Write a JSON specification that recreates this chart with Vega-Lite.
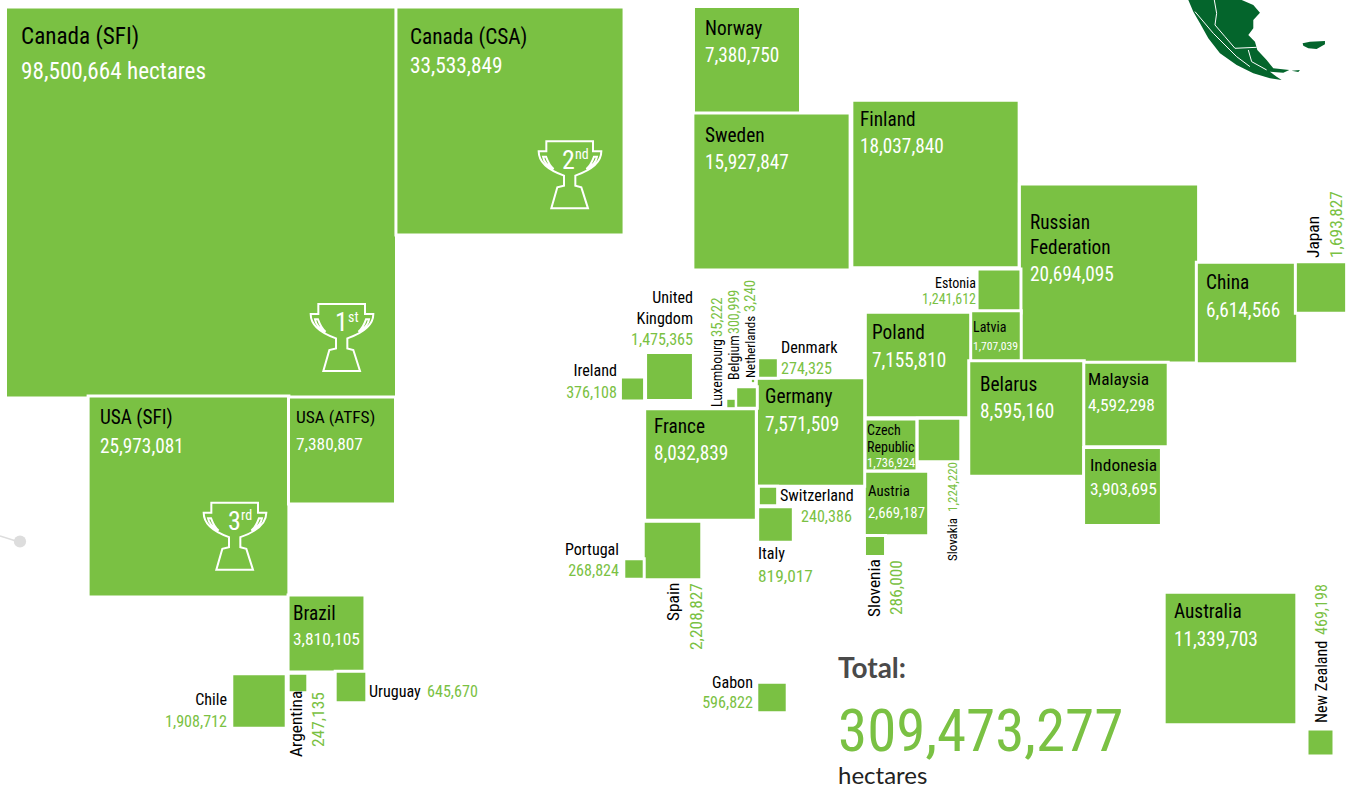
{
"$schema":"https://vega.github.io/schema/vega-lite/v6.json",
"width":1356,"height":789,"autosize":{"type":"none"},"padding":0,
"background":"white",
"config":{"view":{"stroke":null}},
"datasets":{
"squares":[
{"name":"Canada (SFI)","hectares":98500664,"mx":201,"my":202.5},
{"name":"Canada (CSA)","hectares":33533849,"mx":510,"my":121},
{"name":"Norway","hectares":7380750,"mx":747,"my":60},
{"name":"Sweden","hectares":15927847,"mx":771.5,"my":191.5},
{"name":"Finland","hectares":18037840,"mx":935.5,"my":184},
{"name":"Russian Federation","hectares":20694095,"mx":1109,"my":273.5},
{"name":"China","hectares":6614566,"mx":1247,"my":313},
{"name":"Japan","hectares":1693827,"mx":1321,"my":287.5},
{"name":"Estonia","hectares":1241612,"mx":999,"my":291},
{"name":"Latvia","hectares":1707039,"mx":995.5,"my":336.5},
{"name":"Poland","hectares":7155810,"mx":918,"my":365},
{"name":"Belarus","hectares":8595160,"mx":1026.5,"my":418.5},
{"name":"Malaysia","hectares":4592298,"mx":1126,"my":404.5},
{"name":"Indonesia","hectares":3903695,"mx":1122.5,"my":486.5},
{"name":"Czech Republic","hectares":1736924,"mx":891,"my":445},
{"name":"Slovakia","hectares":1224220,"mx":939,"my":440},
{"name":"Austria","hectares":2669187,"mx":896.5,"my":503.5},
{"name":"Slovenia","hectares":286000,"mx":875,"my":546},
{"name":"Germany","hectares":7571509,"mx":810.5,"my":432},
{"name":"France","hectares":8032839,"mx":700.5,"my":464.5},
{"name":"Denmark","hectares":274325,"mx":768,"my":368},
{"name":"Netherlands","hectares":3240,"mx":753,"my":381},
{"name":"Belgium","hectares":300999,"mx":746.5,"my":397.5},
{"name":"Luxembourg","hectares":35222,"mx":731,"my":403.5},
{"name":"United Kingdom","hectares":1475365,"mx":669.5,"my":376.5},
{"name":"Ireland","hectares":376108,"mx":632.5,"my":389},
{"name":"Switzerland","hectares":240386,"mx":768,"my":496},
{"name":"Italy","hectares":819017,"mx":775.5,"my":524.5},
{"name":"Spain","hectares":2208827,"mx":672.5,"my":550.5},
{"name":"Portugal","hectares":268824,"mx":634,"my":569},
{"name":"USA (SFI)","hectares":25973081,"mx":188.5,"my":496.5},
{"name":"USA (ATFS)","hectares":7380807,"mx":342,"my":450.5},
{"name":"Brazil","hectares":3810105,"mx":326.5,"my":633.5},
{"name":"Chile","hectares":1908712,"mx":259,"my":701},
{"name":"Argentina","hectares":247135,"mx":298,"my":683},
{"name":"Uruguay","hectares":645670,"mx":351,"my":687},
{"name":"Gabon","hectares":596822,"mx":772,"my":697.5},
{"name":"Australia","hectares":11339703,"mx":1230.5,"my":658.5},
{"name":"New Zealand","hectares":469198,"mx":1320.5,"my":742.5}
],
"labelsLeft":[
{"t":"Canada (SFI)","lx":21,"ly":44,"tone":"k","tier":"a"},
{"t":"98,500,664 hectares","lx":21,"ly":79,"tone":"w","tier":"a"},
{"t":"Canada (CSA)","lx":410,"ly":44,"tone":"k","tier":"b"},
{"t":"33,533,849","lx":410,"ly":73,"tone":"w","tier":"b"},
{"t":"Norway","lx":705,"ly":35,"tone":"k","tier":"c"},
{"t":"7,380,750","lx":705,"ly":62,"tone":"w","tier":"c"},
{"t":"Sweden","lx":705,"ly":142,"tone":"k","tier":"c"},
{"t":"15,927,847","lx":705,"ly":169,"tone":"w","tier":"c"},
{"t":"Finland","lx":860,"ly":126,"tone":"k","tier":"c"},
{"t":"18,037,840","lx":860,"ly":153,"tone":"w","tier":"c"},
{"t":"Russian","lx":1030,"ly":229,"tone":"k","tier":"c"},
{"t":"Federation","lx":1030,"ly":254,"tone":"k","tier":"c"},
{"t":"20,694,095","lx":1030,"ly":281,"tone":"w","tier":"c"},
{"t":"China","lx":1206,"ly":289,"tone":"k","tier":"c"},
{"t":"6,614,566","lx":1206,"ly":317,"tone":"w","tier":"c"},
{"t":"Poland","lx":872,"ly":339,"tone":"k","tier":"c"},
{"t":"7,155,810","lx":872,"ly":367,"tone":"w","tier":"c"},
{"t":"Belarus","lx":980,"ly":391,"tone":"k","tier":"c"},
{"t":"8,595,160","lx":980,"ly":418,"tone":"w","tier":"c"},
{"t":"Malaysia","lx":1088,"ly":385,"tone":"k","tier":"d"},
{"t":"4,592,298","lx":1088,"ly":411,"tone":"w","tier":"d"},
{"t":"Indonesia","lx":1090,"ly":471,"tone":"k","tier":"d"},
{"t":"3,903,695","lx":1090,"ly":495,"tone":"w","tier":"d"},
{"t":"Latvia","lx":973,"ly":332,"tone":"k","tier":"f"},
{"t":"1,707,039","lx":973,"ly":350,"tone":"w","tier":"h"},
{"t":"Czech","lx":867,"ly":435,"tone":"k","tier":"f"},
{"t":"Republic","lx":867,"ly":452,"tone":"k","tier":"f"},
{"t":"1,736,924","lx":867,"ly":467,"tone":"w","tier":"g"},
{"t":"Austria","lx":868,"ly":496,"tone":"k","tier":"i"},
{"t":"2,669,187","lx":868,"ly":518,"tone":"w","tier":"i"},
{"t":"Germany","lx":765,"ly":403,"tone":"k","tier":"c"},
{"t":"7,571,509","lx":765,"ly":431,"tone":"w","tier":"c"},
{"t":"France","lx":654,"ly":433,"tone":"k","tier":"c"},
{"t":"8,032,839","lx":654,"ly":460,"tone":"w","tier":"c"},
{"t":"USA (SFI)","lx":100,"ly":424,"tone":"k","tier":"c"},
{"t":"25,973,081","lx":100,"ly":453,"tone":"w","tier":"c"},
{"t":"USA (ATFS)","lx":296,"ly":423,"tone":"k","tier":"d"},
{"t":"7,380,807","lx":296,"ly":450,"tone":"w","tier":"d"},
{"t":"Brazil","lx":293,"ly":620,"tone":"k","tier":"c"},
{"t":"3,810,105","lx":293,"ly":645,"tone":"w","tier":"d"},
{"t":"Australia","lx":1174,"ly":618,"tone":"k","tier":"c"},
{"t":"11,339,703","lx":1174,"ly":646,"tone":"w","tier":"c"},
{"t":"Denmark","lx":781,"ly":353,"tone":"k","tier":"e"},
{"t":"274,325","lx":781,"ly":374,"tone":"g","tier":"e"},
{"t":"Switzerland","lx":780,"ly":501,"tone":"k","tier":"e"},
{"t":"240,386","lx":801,"ly":522,"tone":"g","tier":"e"},
{"t":"Italy","lx":758,"ly":559,"tone":"k","tier":"e"},
{"t":"819,017","lx":758,"ly":582,"tone":"g","tier":"d"},
{"t":"Uruguay","lx":369,"ly":697,"tone":"k","tier":"e"},
{"t":"645,670","lx":427,"ly":697,"tone":"g","tier":"e"},
{"t":"1","lx":335,"ly":331,"tone":"w","tier":"r"},
{"t":"st","lx":348,"ly":322,"tone":"w","tier":"f"},
{"t":"2","lx":562,"ly":169,"tone":"w","tier":"r"},
{"t":"nd","lx":575,"ly":159,"tone":"w","tier":"f"},
{"t":"3","lx":228,"ly":530,"tone":"w","tier":"r"},
{"t":"rd","lx":241,"ly":520,"tone":"w","tier":"f"}
],
"labelsRight":[
{"t":"Estonia","lx":976,"ly":288,"tone":"k","tier":"f"},
{"t":"1,241,612","lx":976,"ly":304,"tone":"g","tier":"f"},
{"t":"United","lx":693,"ly":303,"tone":"k","tier":"e"},
{"t":"Kingdom","lx":693,"ly":324,"tone":"k","tier":"e"},
{"t":"1,475,365","lx":693,"ly":345,"tone":"g","tier":"e"},
{"t":"Ireland","lx":617,"ly":376,"tone":"k","tier":"e"},
{"t":"376,108","lx":617,"ly":398,"tone":"g","tier":"e"},
{"t":"Portugal","lx":619,"ly":555,"tone":"k","tier":"e"},
{"t":"268,824","lx":619,"ly":576,"tone":"g","tier":"e"},
{"t":"Chile","lx":227,"ly":705,"tone":"k","tier":"e"},
{"t":"1,908,712","lx":227,"ly":727,"tone":"g","tier":"e"},
{"t":"Gabon","lx":753,"ly":688,"tone":"k","tier":"e"},
{"t":"596,822","lx":753,"ly":708,"tone":"g","tier":"e"}
],
"labelsUp":[
{"t":"Luxembourg","lx":722,"ly":407,"tone":"k","tier":"f"},
{"t":"35,222","lx":722,"ly":337,"tone":"g","tier":"i"},
{"t":"Belgium","lx":739,"ly":380,"tone":"k","tier":"f"},
{"t":"300,999","lx":739,"ly":334,"tone":"g","tier":"f"},
{"t":"Netherlands","lx":755,"ly":378,"tone":"k","tier":"j"},
{"t":"3,240","lx":755,"ly":312,"tone":"g","tier":"i"},
{"t":"Japan","lx":1319,"ly":258,"tone":"k","tier":"d"},
{"t":"1,693,827","lx":1342,"ly":258,"tone":"g","tier":"d"},
{"t":"Slovakia","lx":957,"ly":561,"tone":"k","tier":"j"},
{"t":"1,224,220","lx":957,"ly":512,"tone":"g","tier":"j"},
{"t":"Slovenia","lx":880,"ly":617,"tone":"k","tier":"d"},
{"t":"286,000","lx":902,"ly":615,"tone":"g","tier":"d"},
{"t":"Spain","lx":679,"ly":621,"tone":"k","tier":"d"},
{"t":"2,208,827","lx":702,"ly":650,"tone":"g","tier":"d"},
{"t":"Argentina","lx":302,"ly":757,"tone":"k","tier":"d"},
{"t":"247,135","lx":324,"ly":747,"tone":"g","tier":"d"},
{"t":"New Zealand","lx":1327,"ly":723,"tone":"k","tier":"e"},
{"t":"469,198","lx":1327,"ly":635,"tone":"g","tier":"e"}
]
},
"layer":[
{"data":{"values":[{"mx":0,"my":536},{"mx":16,"my":541}]},
 "mark":{"type":"line","color":"#dddddd","strokeWidth":1.5},
 "encoding":{"x":{"field":"mx","type":"quantitative","scale":{"domain":[0,1356],"nice":false,"zero":false},"axis":null},
 "y":{"field":"my","type":"quantitative","scale":{"domain":[789,0],"nice":false,"zero":false},"axis":null}}},
{"data":{"values":[{"mx":20,"my":541.5}]},
 "mark":{"type":"circle","color":"#dddddd","opacity":1,"size":150},
 "encoding":{"x":{"field":"mx","type":"quantitative","axis":null},"y":{"field":"my","type":"quantitative","axis":null}}},
{"data":{"values":[{"mx":1263.3,"my":43.3}]},
 "mark":{"type":"point","filled":true,"opacity":1,"color":"#04652c","size":4444,
 "shape":"M-2.25 -1.3 L-.65 -1.3 L-.3 -1.15 L-.1 -.92 L-.3 -.7 L-.3 -.45 L-.45 -.25 L-.25 -.05 L-.18 .2 L.1 .5 L.3 .75 L.78 .8 L.6 .88 L.2 .85 L.4 1 L.55 1.1 L.2 1.05 L-.3 .9 L-.8 .65 L-1.3 .3 L-1.65 -.15 L-1.9 -.6 L-2.1 -.95 Z M1.18 0 L1.4 -.05 L1.85 -.07 L1.85 .03 L1.6 .17 L1.35 .15 L1.2 .07 Z M.85 .82 L1.1 .8 L1.05 .86 Z"},
 "encoding":{"x":{"field":"mx","type":"quantitative","axis":null},"y":{"field":"my","type":"quantitative","axis":null}}},
{"data":{"values":[{"mx":1263.3,"my":43.3}]},
 "mark":{"type":"point","filled":false,"opacity":1,"stroke":"white","strokeWidth":1,"fill":null,"size":4444,
 "shape":"M-1.47 -1.3 L-1.4 -.9 L-1.45 -.55 L-1.15 -.2 L-.85 .15 L-.2 .12 M-.45 .2 L-.35 .55 L.1 .8 M-2.05 -.95 L-1.5 -.3 L-.8 .4 L-.4 .7"},
 "encoding":{"x":{"field":"mx","type":"quantitative","axis":null},"y":{"field":"my","type":"quantitative","axis":null}}},
{"data":{"name":"squares"},
 "transform":[{"filter":"datum.hectares >= 100000"}],
 "mark":{"type":"square","filled":true,"opacity":1,"color":"#7ac143","stroke":"white","strokeWidth":3},
 "encoding":{"x":{"field":"mx","type":"quantitative","axis":null},"y":{"field":"my","type":"quantitative","axis":null},
 "size":{"field":"hectares","type":"quantitative","legend":null,"scale":{"type":"linear","domain":[0,98500664],"range":[0,152881]}}}},
{"data":{"name":"squares"},
 "transform":[{"filter":"datum.hectares < 100000"}],
 "mark":{"type":"square","filled":true,"opacity":1,"color":"#7ac143"},
 "encoding":{"x":{"field":"mx","type":"quantitative","axis":null},"y":{"field":"my","type":"quantitative","axis":null},
 "size":{"field":"hectares","type":"quantitative","legend":null,"scale":{"type":"linear","domain":[0,98500664],"range":[0,152881]}}}},
{"data":{"values":[{"rank":"1st","mx":342,"my":337.7},{"rank":"2nd","mx":570,"my":175},{"rank":"3rd","mx":235,"my":536.5}]},
 "mark":{"type":"point","filled":false,"opacity":1,"stroke":"white","strokeWidth":2,"size":4444,
 "shape":"M-.71 -1.01 L.69 -1.01 L.69 -.71 L.94 -.71 C.94 -.38 .59 -.13 .16 .02 L.16 .32 L.34 .37 L.54 1 L-.56 1 L-.38 .37 L-.18 .32 L-.18 .02 C-.61 -.13 -.94 -.38 -.94 -.71 L-.71 -.71 Z M.72 -.55 C.66 -.38 .59 -.25 .49 -.18 C.69 -.28 .79 -.43 .81 -.55 Z M-.72 -.55 C-.66 -.38 -.59 -.25 -.49 -.18 C-.69 -.28 -.79 -.43 -.81 -.55 Z"},
 "encoding":{"x":{"field":"mx","type":"quantitative","axis":null},"y":{"field":"my","type":"quantitative","axis":null}}},
{"data":{"name":"labelsLeft"},
 "mark":{"type":"text","font":"Roboto Condensed, Roboto","align":"left","baseline":"alphabetic"},
 "encoding":{"x":{"field":"lx","type":"quantitative","axis":null},"y":{"field":"ly","type":"quantitative","axis":null},"text":{"field":"t"},
 "color":{"field":"tone","type":"nominal","legend":null,"scale":{"domain":["k","w","g"],"range":["#000000","#ffffff","#7ac143"]}},
 "size":{"field":"tier","type":"nominal","legend":null,"scale":{"type":"ordinal","domain":["a","b","c","d","e","f","g","h","i","j","r"],"range":[23.2,21.3,19.3,17.4,16.1,14,12.5,11.7,14.8,13,26]}}}},
{"data":{"name":"labelsRight"},
 "mark":{"type":"text","font":"Roboto Condensed, Roboto","align":"right","baseline":"alphabetic"},
 "encoding":{"x":{"field":"lx","type":"quantitative","axis":null},"y":{"field":"ly","type":"quantitative","axis":null},"text":{"field":"t"},
 "color":{"field":"tone","type":"nominal","legend":null,"scale":{"domain":["k","w","g"],"range":["#000000","#ffffff","#7ac143"]}},
 "size":{"field":"tier","type":"nominal","legend":null,"scale":{"type":"ordinal","domain":["a","b","c","d","e","f","g","h","i","j","r"],"range":[23.2,21.3,19.3,17.4,16.1,14,12.5,11.7,14.8,13,26]}}}},
{"data":{"name":"labelsUp"},
 "mark":{"type":"text","font":"Roboto Condensed, Roboto","align":"left","baseline":"alphabetic","angle":270},
 "encoding":{"x":{"field":"lx","type":"quantitative","axis":null},"y":{"field":"ly","type":"quantitative","axis":null},"text":{"field":"t"},
 "color":{"field":"tone","type":"nominal","legend":null,"scale":{"domain":["k","w","g"],"range":["#000000","#ffffff","#7ac143"]}},
 "size":{"field":"tier","type":"nominal","legend":null,"scale":{"type":"ordinal","domain":["a","b","c","d","e","f","g","h","i","j","r"],"range":[23.2,21.3,19.3,17.4,16.1,14,12.5,11.7,14.8,13,26]}}}},
{"data":{"values":[{"t":"Total:","lx":838,"ly":678}]},
 "mark":{"type":"text","font":"Lato","fontWeight":"bold","fontSize":28,"color":"#4a4a4a","align":"left","baseline":"alphabetic"},
 "encoding":{"x":{"field":"lx","type":"quantitative","axis":null},"y":{"field":"ly","type":"quantitative","axis":null},"text":{"field":"t"}}},
{"data":{"values":[{"t":"309,473,277","lx":838,"ly":751}]},
 "mark":{"type":"text","font":"Roboto Condensed, Roboto","fontSize":59,"color":"#7ac143","align":"left","baseline":"alphabetic"},
 "encoding":{"x":{"field":"lx","type":"quantitative","axis":null},"y":{"field":"ly","type":"quantitative","axis":null},"text":{"field":"t"}}},
{"data":{"values":[{"t":"hectares","lx":838,"ly":784}]},
 "mark":{"type":"text","font":"Lato","fontSize":24,"color":"#222222","align":"left","baseline":"alphabetic"},
 "encoding":{"x":{"field":"lx","type":"quantitative","axis":null},"y":{"field":"ly","type":"quantitative","axis":null},"text":{"field":"t"}}}
],
"resolve":{"scale":{"size":"independent","color":"independent"}}
}
